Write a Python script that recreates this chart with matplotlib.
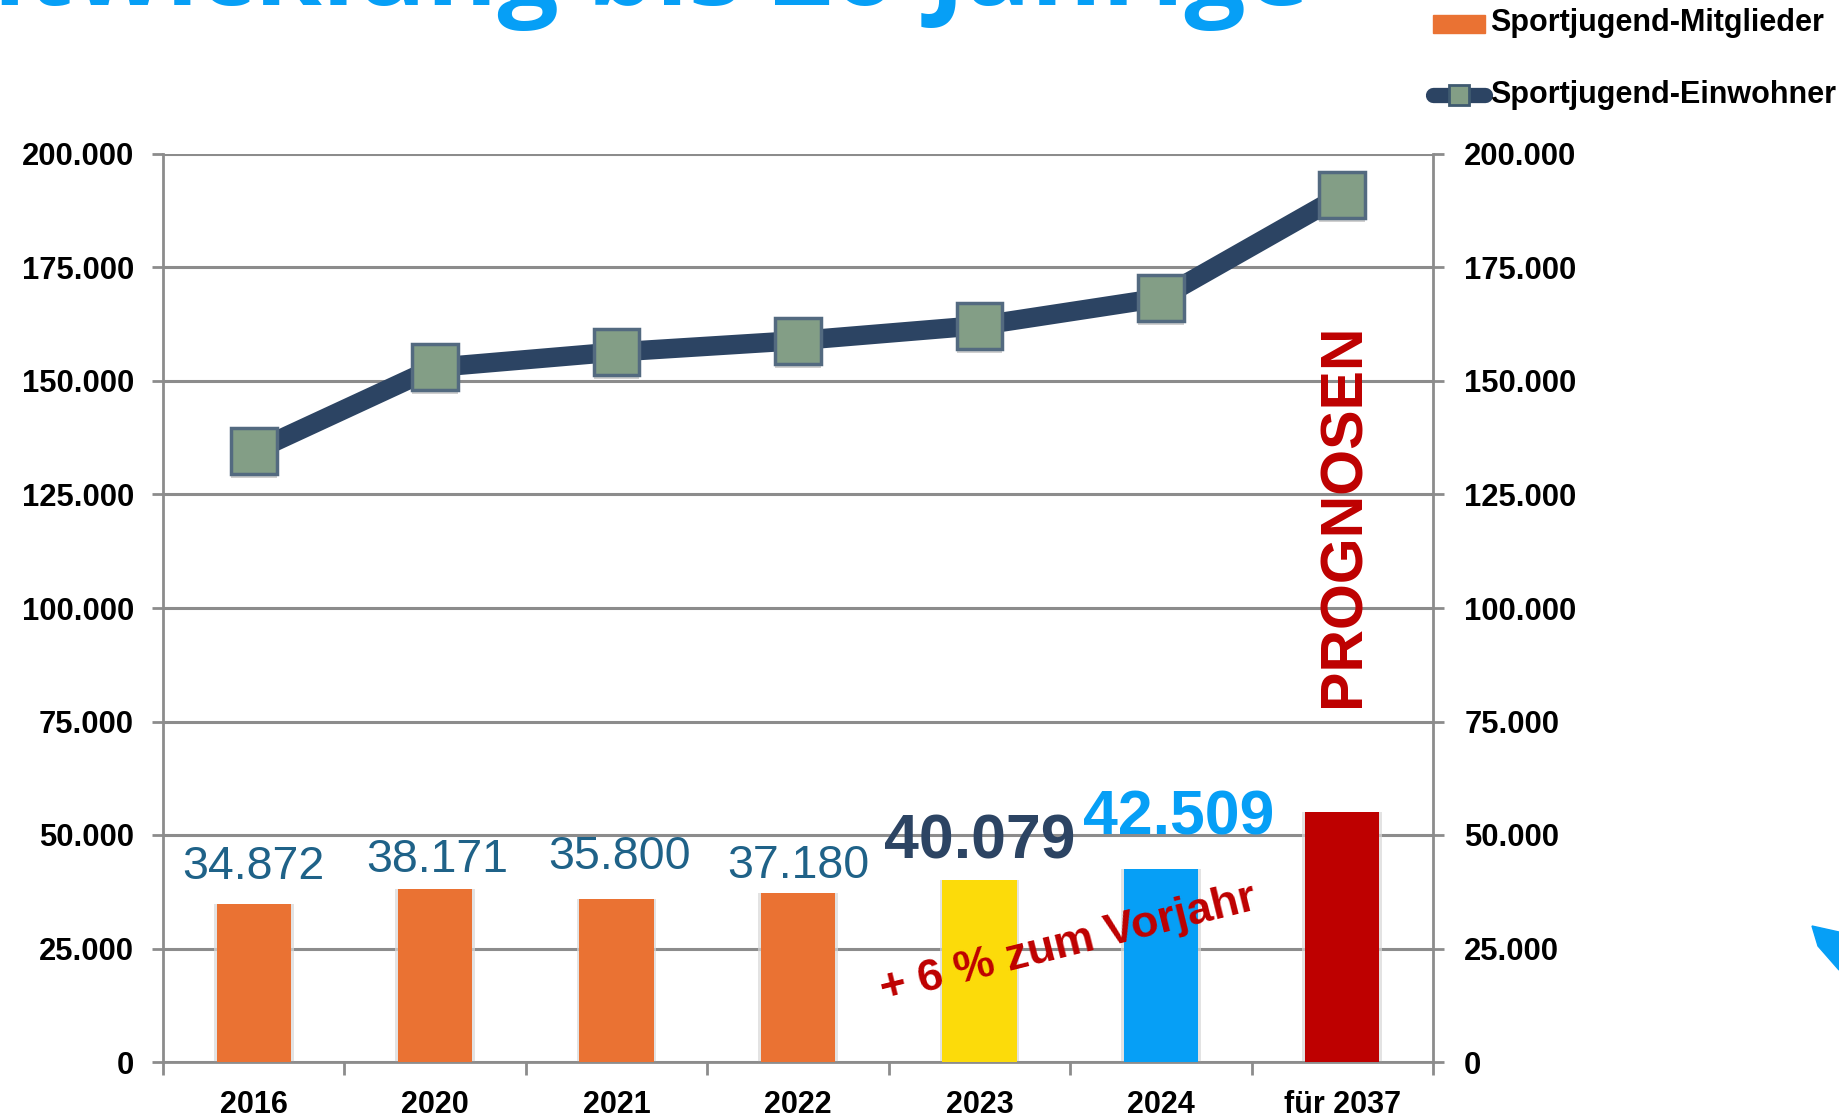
import numpy as np
import matplotlib
matplotlib.use('Agg')
import matplotlib.pyplot as plt
import matplotlib.patheffects as pe
from matplotlib.lines import Line2D
from matplotlib.patches import Polygon, Rectangle

years = ['2016', '2020', '2021', '2022', '2023', '2024', 'für 2037']
members = [34872, 38171, 35800, 37180, 40079, 42509, 55000]
residents = [134500, 153000, 156400, 158900, 162200, 168300, 191000]
bar_colors = ['#EA7233', '#EA7233', '#EA7233', '#EA7233', '#FCDB0A', '#069FF6', '#BE0000']
member_labels = ['34.872', '38.171', '35.800', '37.180', '40.079', '42.509']
yticks = [0, 25000, 50000, 75000, 100000, 125000, 150000, 175000, 200000]
yticklabels = ['0', '25.000', '50.000', '75.000', '100.000', '125.000', '150.000', '175.000', '200.000']

W, H = 1839, 1117
plt.rcParams['font.family'] = ['Liberation Sans', 'DejaVu Sans']

fig = plt.figure(figsize=(W/100, H/100), dpi=100)
ax = fig.add_axes([163/W, 1-1062/H, (1433-163)/W, (1062-154)/H])

x = np.arange(len(years))
ax.set_xlim(-0.5, 6.5)
ax.set_ylim(0, 200000)

# soft shadow behind the bars, then the bars
ax.bar(x, members, width=0.44, color='#d8d8d8', alpha=0.7, zorder=2)
ax.bar(x, members, width=0.41, color=bar_colors, zorder=3)

ax.plot(x, residents, color='#2C4463', lw=14, solid_capstyle='butt', zorder=4)
marker_shadow = [pe.SimplePatchShadow(offset=(0, -3), shadow_rgbFace='#777777', alpha=0.35), pe.Normal()]
ax.plot(x, residents, ls='none', marker='s', ms=33, mfc='#839E86', mec='#536A80',
        mew=2.5, zorder=5, path_effects=marker_shadow)

ax.set_yticks(yticks)
ax.set_yticklabels(yticklabels, fontsize=22.3, fontweight='bold')
ax.grid(axis='y', color='#8c8c8c', lw=2.2, zorder=1)
ax.set_axisbelow(True)
ax.tick_params(axis='y', length=8, width=2, color='#8c8c8c', pad=13)
ax.set_xticks(np.arange(-0.5, 7, 1))
ax.set_xticklabels([])
ax.tick_params(axis='x', length=9, width=2, color='#8c8c8c')
for pos, name in zip(x, years):
    ax.annotate(name, (pos, 0), xytext=(0, -31), textcoords='offset points', ha='center',
                va='center', fontsize=22, fontweight='bold', annotation_clip=False)
for s in ['left', 'bottom', 'right']:
    ax.spines[s].set_color('#8c8c8c')
    ax.spines[s].set_linewidth(2)
ax.spines['top'].set_visible(False)

ax2 = ax.twinx()
ax2.set_ylim(0, 200000)
ax2.set_yticks(yticks)
ax2.set_yticklabels(yticklabels, fontsize=22.3, fontweight='bold')
ax2.tick_params(axis='y', length=8, width=2, color='#8c8c8c', pad=14.5)
ax2.set_frame_on(False)

# value labels, the small ones do not sit at a constant gap in the original
gaps = [3300, 1400, 4500, 1200]
nudges = [0, 0.01, 0.015, 0]
for i in range(4):
    ax.text(x[i] + nudges[i], members[i] + gaps[i], member_labels[i], ha='center', va='bottom',
            fontsize=33.5, color='#1F6288', zorder=6)
ax.text(x[4], members[4] + 1800, member_labels[4], ha='center', va='bottom', fontsize=45,
        fontweight='bold', color='#2C4463', zorder=6)
ax.text(x[5] + 0.1, members[5] + 4800, member_labels[5], ha='center', va='bottom', fontsize=45,
        fontweight='bold', color='#069FF6', zorder=6)

ax.text(4.49, 26000, '+ 6 % zum Vorjahr', rotation=14, ha='center', va='center', fontsize=32.5,
        fontweight='bold', color='#BE0000', zorder=7)
ax.text(6.01, 120400, 'PROGNOSEN', rotation=90, ha='center', va='center', fontsize=42.5,
        fontweight='bold', color='#BE0000', zorder=7)

# title runs off the top of the picture
fig.text(1310/W, 1-5/H, 'Entwicklung bis 26-Jährige', ha='right', va='baseline',
         fontsize=78, fontweight='bold', color='#069FF6', family=['Open Sans', 'DejaVu Sans'])

# legend, placed by hand like the original
fig.add_artist(Rectangle((1433/W, 1-33/H), 52/W, 18/H, transform=fig.transFigure, color='#EA7233'))
fig.add_artist(Line2D([1433/W, 1485/W], [1-95/H, 1-95/H], color='#2C4463', lw=11, solid_capstyle='round'))
fig.add_artist(Line2D([1459/W], [1-95/H], marker='s', ms=15, mfc='#839E86', mec='#3f5a70', mew=2))
fig.text(1490/W, 1-23/H, 'Sportjugend-Mitglieder', fontsize=22, fontweight='bold', va='center')
fig.text(1490/W, 1-95/H, 'Sportjugend-Einwohner', fontsize=22, fontweight='bold', va='center')

# piece of a logo cut off at the right edge
fig.add_artist(Polygon([(1812/W, 1-926/H), (1839/W, 1-932/H), (1839/W, 1-970/H), (1818/W, 1-946/H)],
                       transform=fig.transFigure, color='#069FF6'))

fig.savefig('out.png', dpi=100)
